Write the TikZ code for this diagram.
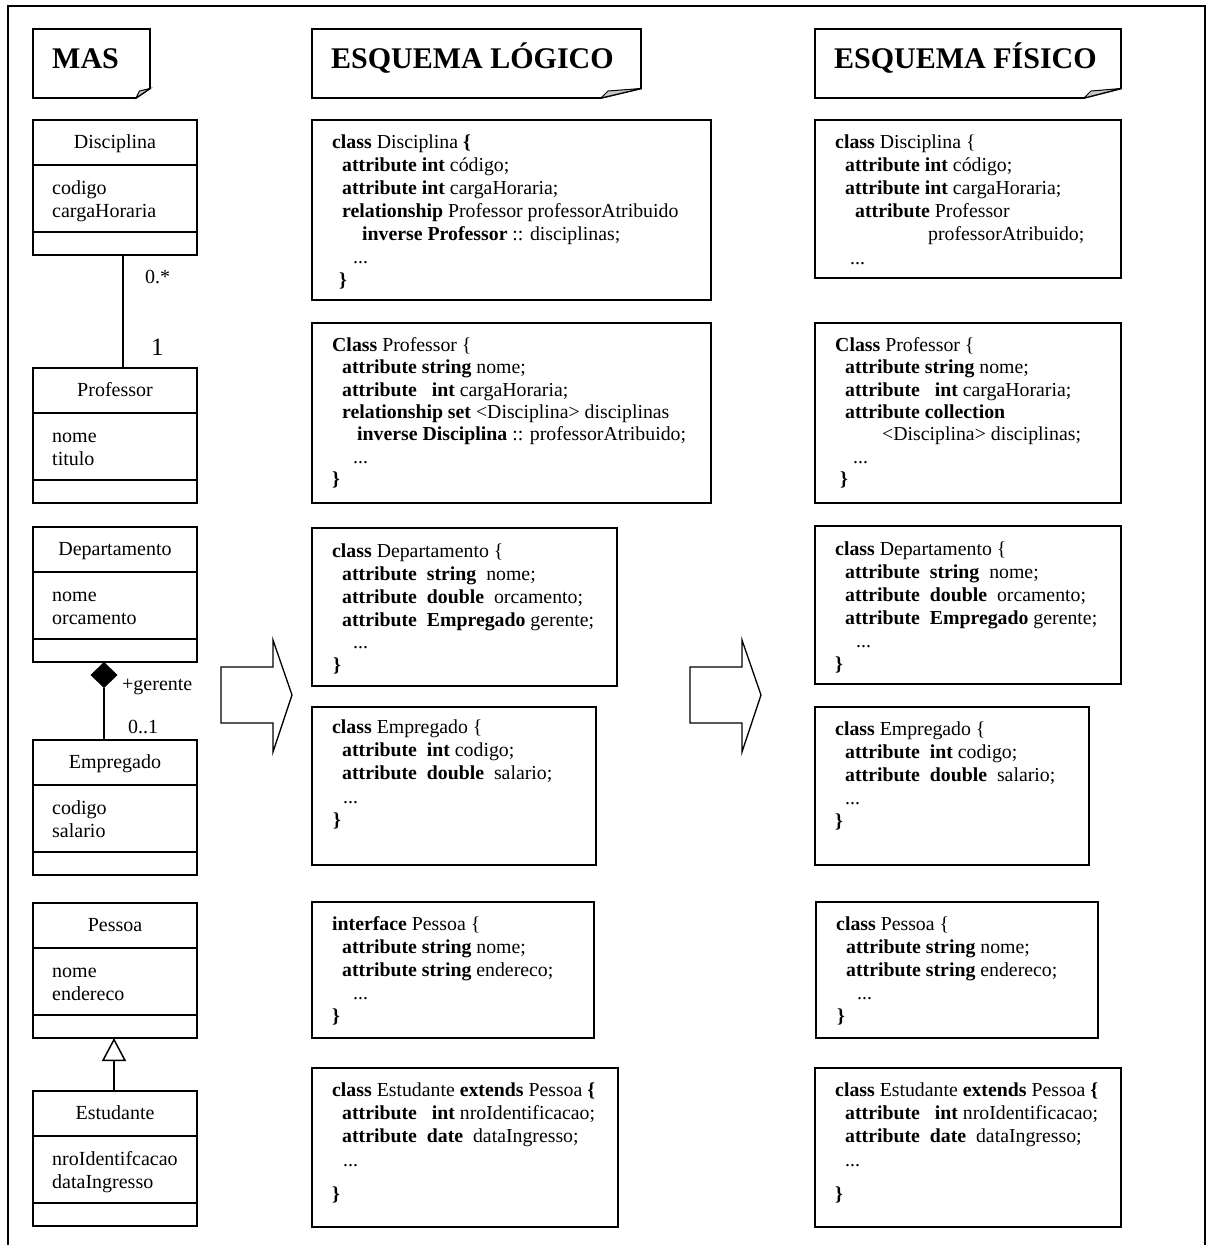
\documentclass[tikz,border=0pt]{standalone}
\usepackage{fontspec}
\setmainfont{Liberation Serif}
\usetikzlibrary{fit,shapes.geometric,arrows.meta}
\newcommand{\kwd}[1]{\textbf{#1}}
\newcommand{\firstline}{\rule{0pt}{16pt}}

% UML class box: name, top y, class name, two attributes
\newcommand{\umlclass}[5]{%
  \node[clsframe, fit={(33,-#2) (197,-#2-135)}] (#1) {};
  \draw[clsrule] ([yshift=-45pt]#1.north west) -- ([yshift=-45pt]#1.north east);
  \draw[clsrule] ([yshift=23pt]#1.south west) -- ([yshift=23pt]#1.south east);
  \node[clstext, anchor=base] (#1-name) at ([yshift=-28pt]#1.north) {#3};
  \node[clstext, anchor=base west] (#1-a1) at ([xshift=19pt,yshift=-74pt]#1.north west) {#4};
  \node[clstext, anchor=base west] (#1-a2) at ([xshift=19pt,yshift=-97pt]#1.north west) {#5};
}

% heading note with a folded lower-right corner
\newcommand{\headnote}[4]{%
  \draw[noteline] (#1.north west) -- (#1.north east) -- ([yshift=9.5pt]#1.south east)
    -- ([xshift=-#2]#1.south east) -- (#1.south west) -- cycle;
  \filldraw[fill=black!22, line width=1pt] ([yshift=9.5pt]#1.south east)
    -- ([xshift=-#3,yshift=7pt]#1.south east) -- ([xshift=-#2]#1.south east) -- cycle;
  \node[title, anchor=base west] (#1-t) at ([xshift=19pt,yshift=-39pt]#1.north west) {#4};
}

\begin{document}
\begin{tikzpicture}[x=1pt,y=1pt,
  frame/.style={line width=1.6pt},
  noteline/.style={line width=1.7pt, line join=miter},
  notebox/.style={inner sep=0pt, outer sep=0pt},
  title/.style={inner sep=0pt, font=\fontsize{30}{34}\selectfont\bfseries},
  clsframe/.style={draw, line width=1.8pt, inner sep=0pt, outer sep=0pt},
  clsrule/.style={line width=1.8pt},
  clstext/.style={inner sep=0pt, font=\fontsize{20}{23}\selectfont},
  codeframe/.style={draw, line width=1.8pt, inner sep=0pt, outer sep=0pt},
  code/.style={align=left, inner sep=0pt, anchor=north west, font=\fontsize{19.8}{23}\selectfont},
  tight/.style={font=\fontsize{19.8}{22.4}\selectfont},
  conn/.style={line width=1.5pt},
  lbl/.style={inner sep=0pt, anchor=base west, font=\fontsize{20}{23}\selectfont},
  aggd/.style={diamond, fill=black, draw=black, line width=1pt, inner sep=0pt,
    minimum width=26pt, minimum height=25pt},
  blockarrow/.style={line width=1.3pt, line join=miter},
]
\useasboundingbox (0,0) rectangle (1207,-1245);

% outer frame
\draw[frame] (8,-1260) -- (8,-6) -- (1205,-6) -- (1205,-1260);

% column headings
\node[notebox, fit={(33,-29) (150,-98)}] (hmas) {};
\headnote{hmas}{14pt}{10.5pt}{MAS}
\node[notebox, fit={(312,-29) (641,-98)}] (hlog) {};
\headnote{hlog}{40pt}{33pt}{ESQUEMA LÓGICO}
\node[notebox, fit={(815,-29) (1121,-98)}] (hfis) {};
\headnote{hfis}{37pt}{30pt}{ESQUEMA FÍSICO}

% class diagram
\umlclass{disc}{120}{Disciplina}{codigo}{cargaHoraria}
\umlclass{prof}{368}{Professor}{nome}{titulo}
\umlclass{dept}{527}{Departamento}{nome}{orcamento}
\umlclass{emp}{740}{Empregado}{codigo}{salario}
\umlclass{pes}{903}{Pessoa}{nome}{endereco}
\umlclass{est}{1091}{Estudante}{nroIdentifcacao}{dataIngresso}

% association Disciplina -- Professor
\draw[conn] ([xshift=8pt]disc.south) -- ([xshift=8pt]prof.north);
\node[lbl] (m-disc) at (145,-283) {0.*};
\node[lbl, font=\fontsize{25}{28}\selectfont] (m-prof) at (151,-355) {1};

% aggregation Departamento -- Empregado
\node[aggd, anchor=north] (agg) at ([xshift=-11pt]dept.south) {};
\draw[conn] (agg.south) -- ([xshift=-11pt]emp.north);
\node[lbl] (r-ger) at (122,-690) {+gerente};
\node[lbl] (m-ger) at (128,-733) {0..1};

% generalisation Estudante -> Pessoa
\draw[conn, -{Triangle[open, length=23pt, width=24pt, line width=1.5pt]}]
  ([xshift=-1pt]est.north) -- ([xshift=-1pt]pes.south);

% transformation arrows
\foreach \dx in {0,469}
  \draw[blockarrow, xshift=\dx pt] (221,-667) -- (273,-667) -- (273,-640) -- (292,-695)
    -- (273,-752) -- (273,-723) -- (221,-723) -- cycle;

% logical schema
\node[codeframe, fit={(312,-120) (711,-300)}] (ld) {};
\node[code] (ld-t) at (332,-132) {\firstline\kwd{class} Disciplina \kwd{\{}\\
\hspace*{10pt}\kwd{attribute int} código;\\
\hspace*{10pt}\kwd{attribute int} cargaHoraria;\\
\hspace*{10pt}\kwd{relationship} Professor professorAtribuido\\
\hspace*{30pt}\kwd{inverse Professor} :: disciplinas;\\
\hspace*{21pt}...\\
\hspace*{7pt}\kwd{\}}};

\node[codeframe, fit={(312,-323) (711,-503)}] (lp) {};
\node[code, tight] (lp-t) at (332,-335) {\firstline\kwd{Class} Professor \{\\
\hspace*{10pt}\kwd{attribute string} nome;\\
\hspace*{10pt}\kwd{attribute\ \ \ int} cargaHoraria;\\
\hspace*{10pt}\kwd{relationship set} <Disciplina> disciplinas\\
\hspace*{25pt}\kwd{inverse Disciplina} :: professorAtribuido;\\
\hspace*{21pt}...\\
\kwd{\}}};

\node[codeframe, fit={(312,-528) (617,-686)}] (lde) {};
\node[code] (lde-t) at (332,-541) {\firstline\kwd{class} Departamento \{\\
\hspace*{10pt}\kwd{attribute}\ \ \kwd{string}\ \ nome;\\
\hspace*{10pt}\kwd{attribute}\ \ \kwd{double}\ \ orcamento;\\
\hspace*{10pt}\kwd{attribute}\ \ \kwd{Empregado} gerente;\\[-1pt]
\hspace*{21pt}...\\
\hspace*{1pt}\kwd{\}}};

\node[codeframe, fit={(312,-707) (596,-865)}] (le) {};
\node[code] (le-t) at (332,-717) {\firstline\kwd{class} Empregado \{\\
\hspace*{10pt}\kwd{attribute}\ \ \kwd{int} codigo;\\
\hspace*{10pt}\kwd{attribute}\ \ \kwd{double}\ \ salario;\\[1pt]
\hspace*{11pt}...\\
\hspace*{1pt}\kwd{\}}};

\node[codeframe, fit={(312,-902) (594,-1038)}] (lpe) {};
\node[code] (lpe-t) at (332,-914) {\firstline\kwd{interface} Pessoa \{\\
\hspace*{10pt}\kwd{attribute string} nome;\\
\hspace*{10pt}\kwd{attribute string} endereco;\\
\hspace*{21pt}...\\
\kwd{\}}};

\node[codeframe, fit={(312,-1068) (618,-1227)}] (les) {};
\node[code] (les-t) at (332,-1080) {\firstline\kwd{class} Estudante \kwd{extends} Pessoa \kwd{\{}\\
\hspace*{10pt}\kwd{attribute}\ \ \ \kwd{int} nroIdentificacao;\\
\hspace*{10pt}\kwd{attribute}\ \ \kwd{date}\ \ dataIngresso;\\[1pt]
\hspace*{11pt}...\\[11pt]
\kwd{\}}};

% physical schema
\node[codeframe, fit={(815,-120) (1121,-278)}] (fd) {};
\node[code] (fd-t) at (835,-132) {\firstline\kwd{class} Disciplina \{\\
\hspace*{10pt}\kwd{attribute int} código;\\
\hspace*{10pt}\kwd{attribute int} cargaHoraria;\\
\hspace*{20pt}\kwd{attribute} Professor\\
\hspace*{93pt}professorAtribuido;\\[1pt]
\hspace*{15pt}...};

\node[codeframe, fit={(815,-323) (1121,-503)}] (fp) {};
\node[code, tight] (fp-t) at (835,-335) {\firstline\kwd{Class} Professor \{\\
\hspace*{10pt}\kwd{attribute string} nome;\\
\hspace*{10pt}\kwd{attribute\ \ \ int} cargaHoraria;\\
\hspace*{10pt}\kwd{attribute collection}\\
\hspace*{47pt}<Disciplina> disciplinas;\\
\hspace*{18pt}...\\
\hspace*{5pt}\kwd{\}}};

\node[codeframe, fit={(815,-526) (1121,-684)}] (fde) {};
\node[code] (fde-t) at (835,-539) {\firstline\kwd{class} Departamento \{\\
\hspace*{10pt}\kwd{attribute}\ \ \kwd{string}\ \ nome;\\
\hspace*{10pt}\kwd{attribute}\ \ \kwd{double}\ \ orcamento;\\
\hspace*{10pt}\kwd{attribute}\ \ \kwd{Empregado} gerente;\\
\hspace*{21pt}...\\
\kwd{\}}};

\node[codeframe, fit={(815,-707) (1089,-865)}] (fe) {};
\node[code] (fe-t) at (835,-719) {\firstline\kwd{class} Empregado \{\\
\hspace*{10pt}\kwd{attribute}\ \ \kwd{int} codigo;\\
\hspace*{10pt}\kwd{attribute}\ \ \kwd{double}\ \ salario;\\
\hspace*{10pt}...\\
\kwd{\}}};

\node[codeframe, fit={(816,-902) (1098,-1038)}] (fpe) {};
\node[code] (fpe-t) at (836,-914) {\firstline\kwd{class} Pessoa \{\\
\hspace*{10pt}\kwd{attribute string} nome;\\
\hspace*{10pt}\kwd{attribute string} endereco;\\
\hspace*{21pt}...\\
\hspace*{1pt}\kwd{\}}};

\node[codeframe, fit={(815,-1068) (1121,-1227)}] (fes) {};
\node[code] (fes-t) at (835,-1080) {\firstline\kwd{class} Estudante \kwd{extends} Pessoa \kwd{\{}\\
\hspace*{10pt}\kwd{attribute}\ \ \ \kwd{int} nroIdentificacao;\\
\hspace*{10pt}\kwd{attribute}\ \ \kwd{date}\ \ dataIngresso;\\[1pt]
\hspace*{10pt}...\\[11pt]
\kwd{\}}};
\end{tikzpicture}
\end{document}
